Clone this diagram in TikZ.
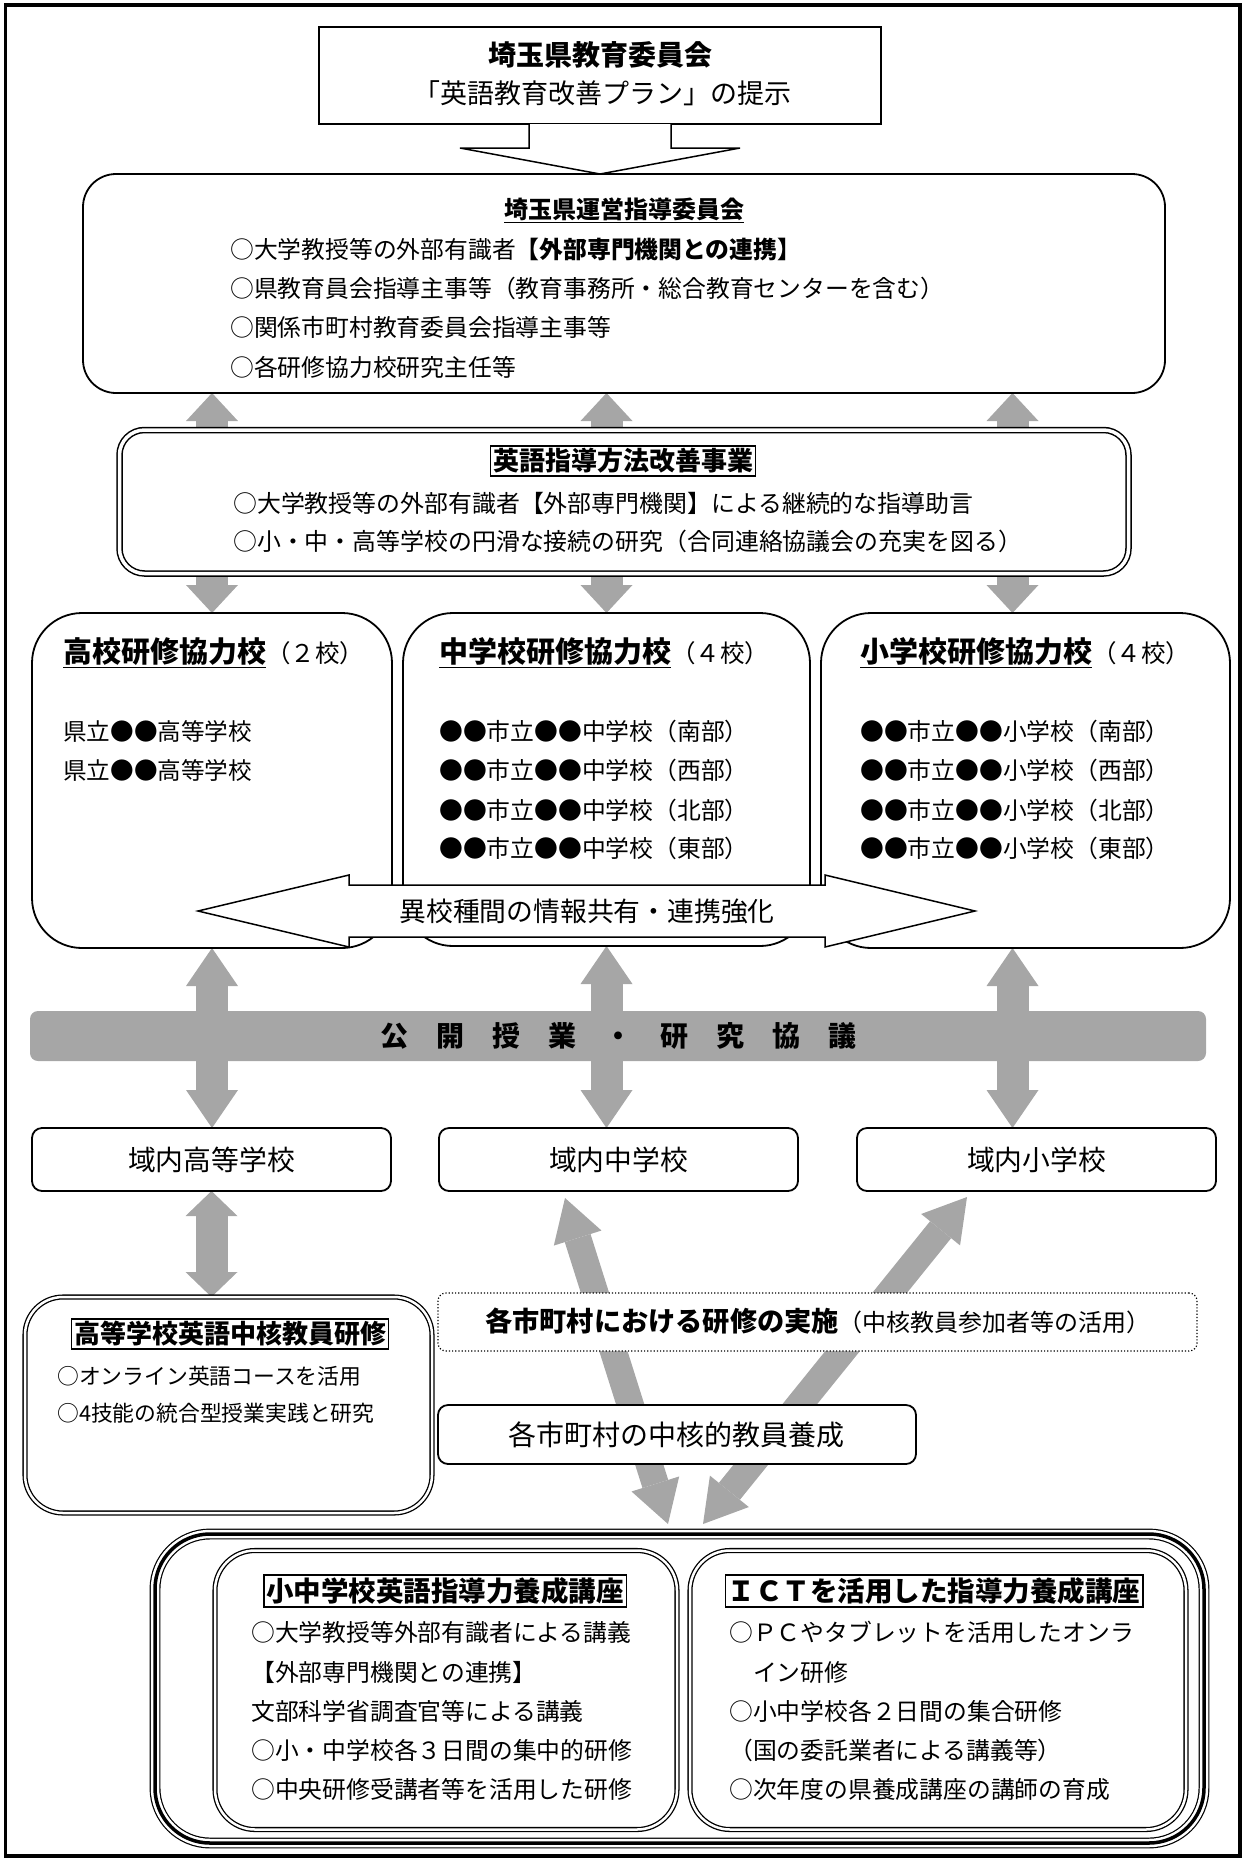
\documentclass[tikz,border=0pt]{standalone}
\usepackage{fontspec}
\setmainfont{Noto Sans CJK JP}
\usetikzlibrary{arrows.meta,calc,backgrounds}
\definecolor{arrowgray}{HTML}{A6A6A6}
\newcommand{\fs}[1]{\fontsize{#1}{#1}\selectfont}

\begin{document}
\begin{tikzpicture}[x=1pt,y=-1pt,
    box/.style={draw, line width=1.8pt, fill=white, inner sep=0pt, outer sep=0pt, anchor=north west},
    dbox/.style={box, double, line width=1.3pt, double distance=2.5pt},
    ttl/.style={draw, line width=1.5pt, inner sep=2.5pt},
    txt/.style={anchor=west, inner sep=0pt},
    garrow/.style={arrowgray, line width=32pt, {Triangle[length=#1,width=52pt,line width=0pt]}-{Triangle[length=#1,width=52pt,line width=0pt]}},
    garrow/.default=28pt,
    darrow/.style={arrowgray, line width=27pt, {Triangle[length=42pt,width=50pt,line width=0pt]}-{Triangle[length=42pt,width=50pt,line width=0pt]}}
  ]
        \useasboundingbox (0,0) rectangle (1244,1861);
        \draw[line width=3.5pt] (5.5,5) rectangle (1240,1856);

        \node[box, line width=2pt, minimum width=562pt, minimum height=97pt] (tb) at (319,27) {};
        \node[font=\bfseries\fs{28}] (tbone) at (600,55) {埼玉県教育委員会};
        \node[font=\fs{27}] (tbtwo) at (602,93) {「英語教育改善プラン」の提示};

        \node[box, rounded corners=33pt, minimum width=1082pt, minimum height=219pt] (unei) at (83,174) {};
        \draw[line width=1.5pt, fill=white] ($(tb.south)+(-71,0)$) -- ++(0,24) -- ++(-69,0) -- (tb.south |- unei.north) -- ($(tb.south)+(140,24)$) -- ++(-69,0) -- ++(0,-24);
        \node[font=\fs{24}] (uneittl) at (624,210) {\underline{\bfseries 埼玉県運営指導委員会}};
        \node[txt, font=\fs{23.8}] (unei1) at (230,249) {○大学教授等の外部有識者\textbf{【外部専門機関との連携】}};
        \node[txt, font=\fs{23.8}] (unei2) at (230,288) {○県教育員会指導主事等（教育事務所・総合教育センターを含む）};
        \node[txt, font=\fs{23.8}] (unei3) at (230,327) {○関係市町村教育委員会指導主事等};
        \node[txt, font=\fs{23.8}] (unei4) at (230,367) {○各研修協力校研究主任等};

        \node[box, rounded corners=50pt, minimum width=360pt, minimum height=335pt] (ko) at (32,613) {};
        \node[box, rounded corners=50pt, minimum width=407pt, minimum height=333pt] (chu) at (403,613) {};
        \node[box, rounded corners=50pt, minimum width=409pt, minimum height=335pt] (sho) at (821,613) {};

        \node[dbox, line width=1.5pt, double distance=3.5pt, rounded corners=25pt, minimum width=1009pt, minimum height=143.5pt] (kaizen) at (119.5,430) {};
        \node[ttl, font=\bfseries\fs{26}] (kaizenttl) at (623,461) {英語指導方法改善事業};
        \node[txt, font=\fs{23.9}] (kaizen1) at (233,503) {○大学教授等の外部有識者【外部専門機関】による継続的な指導助言};
        \node[txt, font=\fs{23.9}] (kaizen2) at (233,541) {○小・中・高等学校の円滑な接続の研究（合同連絡協議会の充実を図る）};

        \node[txt] (kottl) at (63,653) {\fs{29}\underline{\bfseries 高校研修協力校}\fs{24.5}（２校）};
        \node[txt, font=\fs{23.6}] (ko1) at (63,731) {県立●●高等学校};
        \node[txt, font=\fs{23.6}] (ko2) at (63,770) {県立●●高等学校};

        \node[txt] (chuttl) at (439,653) {\fs{29}\underline{\bfseries 中学校研修協力校}\fs{24.5}（４校）};
        \node[txt, font=\fs{23.8}] (chu1) at (439,731) {●●市立●●中学校（南部）};
        \node[txt, font=\fs{23.8}] (chu2) at (439,770) {●●市立●●中学校（西部）};
        \node[txt, font=\fs{23.8}] (chu3) at (439,810) {●●市立●●中学校（北部）};
        \node[txt, font=\fs{23.8}] (chu4) at (439,848) {●●市立●●中学校（東部）};

        \node[txt] (shottl) at (860,653) {\fs{29}\underline{\bfseries 小学校研修協力校}\fs{24.5}（４校）};
        \node[txt, font=\fs{23.8}] (sho1) at (860,731) {●●市立●●小学校（南部）};
        \node[txt, font=\fs{23.8}] (sho2) at (860,770) {●●市立●●小学校（西部）};
        \node[txt, font=\fs{23.8}] (sho3) at (860,810) {●●市立●●小学校（北部）};
        \node[txt, font=\fs{23.8}] (sho4) at (860,848) {●●市立●●小学校（東部）};

        \draw[line width=1.5pt, fill=white] (198,911) -- (349,875) -- (349,885) -- (825,885) -- (825,875) -- (975,911) -- (825,947) -- (825,937) -- (349,937) -- (349,947) -- cycle;
        \node[font=\fs{26.8}] (kyoyu) at (587,911) {異校種間の情報共有・連携強化};

        \node[box, draw=none, fill=arrowgray, rounded corners=8pt, minimum width=1176pt, minimum height=50pt, font=\bfseries\fs{28}] (kokai) at (30,1011) {公　開　授　業　・　研　究　協　議};

        \node[box, rounded corners=10pt, minimum width=359pt, minimum height=63pt, font=\fs{27.8}] (ik) at (32,1128) {域内高等学校};
        \node[box, rounded corners=10pt, minimum width=359pt, minimum height=63pt, font=\fs{27.8}] (ic) at (439,1128) {域内中学校};
        \node[box, rounded corners=10pt, minimum width=359pt, minimum height=63pt, font=\fs{27.8}] (is) at (857,1128) {域内小学校};

        \node[dbox, rounded corners=38pt, minimum width=407pt, minimum height=216pt] (hcore) at (25,1297) {};
        \node[ttl, font=\bfseries\fs{26}] (hcorettl) at (230,1334) {高等学校英語中核教員研修};
        \node[txt, font=\fs{21.8}] (hcore1) at (57,1376) {○オンライン英語コースを活用};
        \node[txt, font=\fs{21.8}] (hcore2) at (57,1413) {○4技能の統合型授業実践と研究};

        \coordinate (dlt) at (565,1198);
        \coordinate (dlb) at (668,1524);
        \coordinate (drt) at (967,1197);
        \coordinate (drb) at (703,1524);

        \node[box, line width=1.2pt, dotted, rounded corners=8pt, minimum width=759pt, minimum height=58pt] (jisshi) at (438,1293) {};
        \node[txt] (jisshitxt) at (485,1321) {\bfseries\fs{27.2}各市町村における研修の実施\mdseries\fs{24}（中核教員参加者等の活用）};

        \node[box, rounded corners=10pt, minimum width=478pt, minimum height=59pt] (yosei) at (438,1405) {};
        \node[txt, font=\fs{28}] (yoseitxt) at (508,1435) {各市町村の中核的教員養成};

        \node[dbox, line width=1.2pt, double distance=8.5pt, rounded corners=55pt, minimum width=1049pt, minimum height=309pt] (kenshu) at (155,1534) {};
        \draw[line width=3.5pt, rounded corners=55pt] (kenshu.north west) rectangle (kenshu.south east);

        \node[dbox, rounded corners=40pt, minimum width=462pt, minimum height=279pt] (kouza1) at (215,1550.5) {};
        \node[ttl, font=\bfseries\fs{27.5}] (kouza1ttl) at (445,1591) {小中学校英語指導力養成講座};
        \node[txt, font=\fs{23.8}] (kouza11) at (251,1632) {○大学教授等外部有識者による講義};
        \node[txt, font=\fs{23.8}] (kouza12) at (251,1672) {【外部専門機関との連携】};
        \node[txt, font=\fs{23.8}] (kouza13) at (251,1711) {文部科学省調査官等による講義};
        \node[txt, font=\fs{23.8}] (kouza14) at (251,1750) {○小・中学校各３日間の集中的研修};
        \node[txt, font=\fs{23.8}] (kouza15) at (251,1789) {○中央研修受講者等を活用した研修};

        \node[dbox, rounded corners=40pt, minimum width=496pt, minimum height=279pt] (kouza2) at (690,1550.5) {};
        \node[ttl, font=\bfseries\fs{27.5}] (kouza2ttl) at (934,1591) {ＩＣＴを活用した指導力養成講座};
        \node[txt, font=\fs{23.8}] (kouza21) at (729,1632) {○ＰＣやタブレットを活用したオンラ};
        \node[txt, font=\fs{23.8}] (kouza22) at (729,1672) {　イン研修};
        \node[txt, font=\fs{23.8}] (kouza23) at (729,1711) {○小中学校各２日間の集合研修};
        \node[txt, font=\fs{23.8}] (kouza24) at (729,1750) {（国の委託業者による講義等）};
        \node[txt, font=\fs{23.8}] (kouza25) at (729,1789) {○次年度の県養成講座の講師の育成};

        \begin{scope}[on background layer]
        \draw[garrow] (unei.south -| ko.north) -- (ko.north);
        \draw[garrow] (unei.south -| chu.north) -- (chu.north);
        \draw[garrow] ($(unei.south -| sho.north)+(-13,0)$) -- ($(sho.north)+(-13,0)$);
        \draw[garrow=38pt] (ko.south) -- (ko.south |- ik.north);
        \draw[garrow=38pt] (chu.south) -- (chu.south |- ic.north);
        \draw[garrow=38pt] ($(sho.south)+(-13,0)$) -- ($(sho.south |- is.north)+(-13,0)$);
        \draw[garrow=25pt] (ik.south) -- (ik.south |- hcore.north);
        \draw[darrow] (dlt) -- (dlb);
        \draw[darrow] (drt) -- (drb);
        \end{scope}
    \end{tikzpicture}
\end{document}
